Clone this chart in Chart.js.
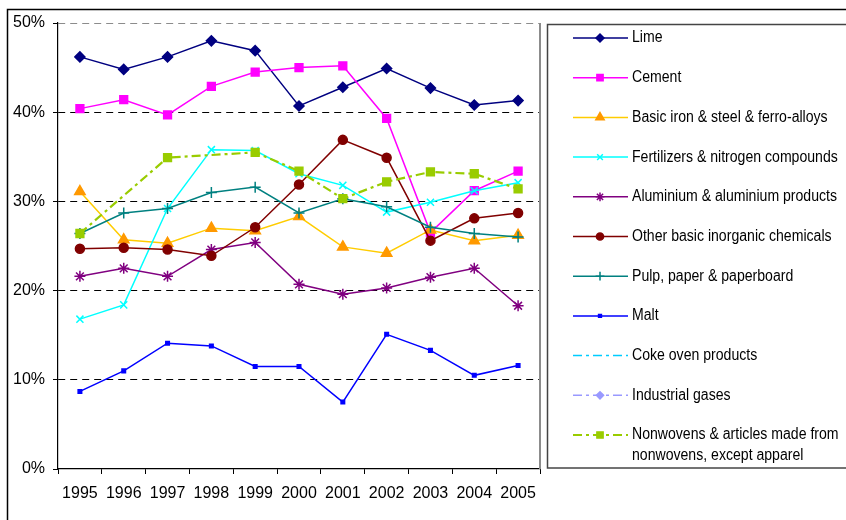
<!DOCTYPE html>
<html lang="en">
<head>
<meta charset="utf-8">
<title>Shares by industry, 1995-2005</title>
<script src="https://cdn.jsdelivr.net/npm/chart.js@4.4.1/dist/chart.umd.min.js"></script>
<style>
  * { margin: 0; padding: 0; box-sizing: border-box; }
  body { width: 846px; height: 520px; background: #fff; overflow: hidden; }
  #chart { display: block; }
</style>
</head>
<body>
<canvas id="chart" width="846" height="520"></canvas>
<script>
// years on the x axis
const years = ["1995", "1996", "1997", "1998", "1999", "2000", "2001", "2002", "2003", "2004", "2005"];

// values in percent
const lime        = [46.2, 44.8, 46.2, 48.0, 46.9, 40.7, 42.8, 44.9, 42.7, 40.8, 41.3];
const cement      = [40.4, 41.4, 39.7, 42.9, 44.5, 45.0, 45.2, 39.3, 26.5, 31.2, 33.4];
const ironSteel   = [31.1, 25.7, 25.3, 27.0, 26.7, 28.3, 24.9, 24.2, 26.8, 25.6, 26.2];
const fertilizers = [16.8, 18.4, 29.2, 35.8, 35.7, 33.1, 31.8, 28.8, 29.9, 31.2, 32.1];
const aluminium   = [21.6, 22.5, 21.6, 24.6, 25.4, 20.7, 19.6, 20.3, 21.5, 22.5, 18.3];
const inorganic   = [24.7, 24.8, 24.6, 23.9, 27.1, 31.9, 36.9, 34.9, 25.6, 28.1, 28.7];
const pulpPaper   = [26.4, 28.7, 29.2, 31.0, 31.6, 28.7, 30.3, 29.4, 27.1, 26.4, 26.0];
const malt        = [8.7, 11.0, 14.1, 13.8, 11.5, 11.5, 7.5, 15.1, 13.3, 10.5, 11.6];
const cokeOven    = [null, null, null, null, null, null, null, null, null, null, null];
const indGases    = [null, null, null, null, null, null, null, null, null, null, null];
const nonwovens   = [26.4, null, 34.9, null, 35.5, 33.4, 30.3, 32.2, 33.3, 33.1, 31.4];

// y axis ticks
const yTicks = [0, 10, 20, 30, 40, 50];

const dashDot = [9, 4, 3, 4];

const series = [
  { label: ["Lime"], data: lime, color: "#000080", fill: "#000080", style: "rectRot", r: 5 },
  { label: ["Cement"], data: cement, color: "#ff00ff", fill: "#ff00ff", style: "rect", r: 5.5 },
  { label: ["Basic iron & steel & ferro-alloys"], data: ironSteel, color: "#ffcc00", fill: "#ff9900", style: "triangle", r: 6 },
  { label: ["Fertilizers & nitrogen compounds"], data: fertilizers, color: "#00ffff", fill: "#00ffff", style: "crossRot", r: 5 },
  { label: ["Aluminium & aluminium products"], data: aluminium, color: "#800080", fill: "#800080", style: "star", r: 5.5 },
  { label: ["Other basic inorganic chemicals"], data: inorganic, color: "#800000", fill: "#800000", style: "circle", r: 4.5 },
  { label: ["Pulp, paper & paperboard"], data: pulpPaper, color: "#008080", fill: "#008080", style: "cross", r: 5.5 },
  { label: ["Malt"], data: malt, color: "#0000ff", fill: "#0000ff", style: "rect", r: 2.5 },
  { label: ["Coke oven products"], data: cokeOven, color: "#00ccff", fill: "#00ccff", style: false, r: 0, dash: dashDot },
  { label: ["Industrial gases"], data: indGases, color: "#9999ff", fill: "#9999ff", style: "rectRot", r: 4.5, dash: dashDot },
  { label: ["Nonwovens & articles made from", "nonwovens, except apparel"], data: nonwovens, color: "#99cc00", fill: "#99cc00", style: "rect", r: 5.5, dash: dashDot, width: 2.2 }
];

const FONT = "'Liberation Sans', Arial, sans-serif";

// white page, outer frame and plot area right edge
const framePlugin = {
  id: "frame",
  beforeDraw(chart) {
    const ctx = chart.ctx;
    ctx.save();
    ctx.fillStyle = "#fff";
    ctx.fillRect(0, 0, chart.width, chart.height);
    ctx.strokeStyle = "#000";
    ctx.lineWidth = 1.5;
    ctx.beginPath();
    ctx.moveTo(7.5, chart.height);
    ctx.lineTo(7.5, 9.5);
    ctx.lineTo(chart.width, 9.5);
    ctx.stroke();
    ctx.restore();
  },
  beforeDatasetsDraw(chart) {
    const a = chart.chartArea, ctx = chart.ctx;
    ctx.save();
    ctx.strokeStyle = "#8c8c8c";
    ctx.lineWidth = 2;
    ctx.beginPath();
    ctx.moveTo(a.right, a.top);
    ctx.lineTo(a.right, a.bottom);
    ctx.stroke();
    ctx.restore();
  }
};

// boxed legend to the right of the plot
const legendPlugin = {
  id: "boxLegend",
  afterDraw(chart) {
    const ctx = chart.ctx;
    const boxLeft = 547.5, boxTop = 24.5, boxBottom = 468;
    const textX = 632, squeeze = 0.88; // condensed look of the original legend font
    ctx.save();
    ctx.strokeStyle = "#444";
    ctx.lineWidth = 1.5;
    ctx.strokeRect(boxLeft, boxTop, chart.width + 10 - boxLeft, boxBottom - boxTop);

    chart.data.datasets.forEach((ds, i) => {
      const y = 38 + i * 39.7;
      ctx.save();
      ctx.strokeStyle = ds.borderColor;
      ctx.lineWidth = ds.borderWidth;
      ctx.setLineDash(ds.borderDash || []);
      ctx.beginPath();
      ctx.moveTo(573, y);
      ctx.lineTo(628, y);
      ctx.stroke();
      ctx.restore();
      if (ds.pointStyle) {
        ctx.save();
        ctx.fillStyle = ds.pointBackgroundColor;
        ctx.strokeStyle = ds.pointBorderColor;
        ctx.lineWidth = ds.pointBorderWidth;
        Chart.helpers.drawPoint(ctx, {
          pointStyle: ds.pointStyle,
          radius: ds.pointRadius * 0.8,
          rotation: 0,
          borderWidth: ds.pointBorderWidth
        }, 600, y);
        ctx.restore();
      }
      ctx.save();
      ctx.font = "16px " + FONT;
      ctx.textBaseline = "middle";
      ctx.fillStyle = "#000";
      ctx.translate(textX, 0);
      ctx.scale(squeeze, 1);
      ds.label.forEach((t, k) => ctx.fillText(t, 0, y + k * 20.5));
      ctx.restore();
    });
    ctx.restore();
  }
};

new Chart(document.getElementById("chart"), {
  type: "line",
  data: {
    labels: years,
    datasets: series.map((s, i) => ({
      label: s.label,
      data: s.data,
      borderColor: s.color,
      borderWidth: s.width || 1.5,
      borderDash: s.dash || [],
      pointStyle: s.style,
      pointRadius: s.r,
      pointHoverRadius: s.r,
      pointBackgroundColor: s.fill,
      pointBorderColor: s.fill,
      pointBorderWidth: 1.5,
      spanGaps: true,
      tension: 0,
      order: series.length - i
    }))
  },
  plugins: [framePlugin, legendPlugin],
  options: {
    responsive: false,
    animation: false,
    layout: { padding: { left: 0, top: 23, right: 306, bottom: 0 } },
    plugins: {
      legend: { display: false },
      tooltip: { enabled: false }
    },
    scales: {
      x: {
        offset: true,
        afterFit: (s) => { s.height = 51; },
        grid: {
          offset: true,
          drawOnChartArea: false,
          drawTicks: true,
          tickLength: 5,
          color: "#000",
          tickColor: "#000"
        },
        border: { display: true, color: "#000", width: 1.2 },
        ticks: {
          color: "#000",
          font: { family: FONT, size: 16 },
          padding: 10,
          maxRotation: 0,
          autoSkip: false
        }
      },
      y: {
        min: 0,
        max: 50,
        afterFit: (s) => { s.width = 58; },
        afterBuildTicks: (s) => { s.ticks = yTicks.map(v => ({ value: v })); },
        grid: {
          drawTicks: true,
          tickLength: 5,
          lineWidth: 1,
          color: (c) => c.tick.value === 0 ? "rgba(0,0,0,0)" : (c.tick.value === 50 ? "#8c8c8c" : "#000"),
          tickColor: "#000"
        },
        border: { display: true, color: "#000", width: 1.2, dash: [7, 5] },
        ticks: {
          color: "#000",
          font: { family: FONT, size: 16 },
          padding: 8,
          callback: (v) => v + "%"
        }
      }
    }
  }
});
</script>
</body>
</html>
